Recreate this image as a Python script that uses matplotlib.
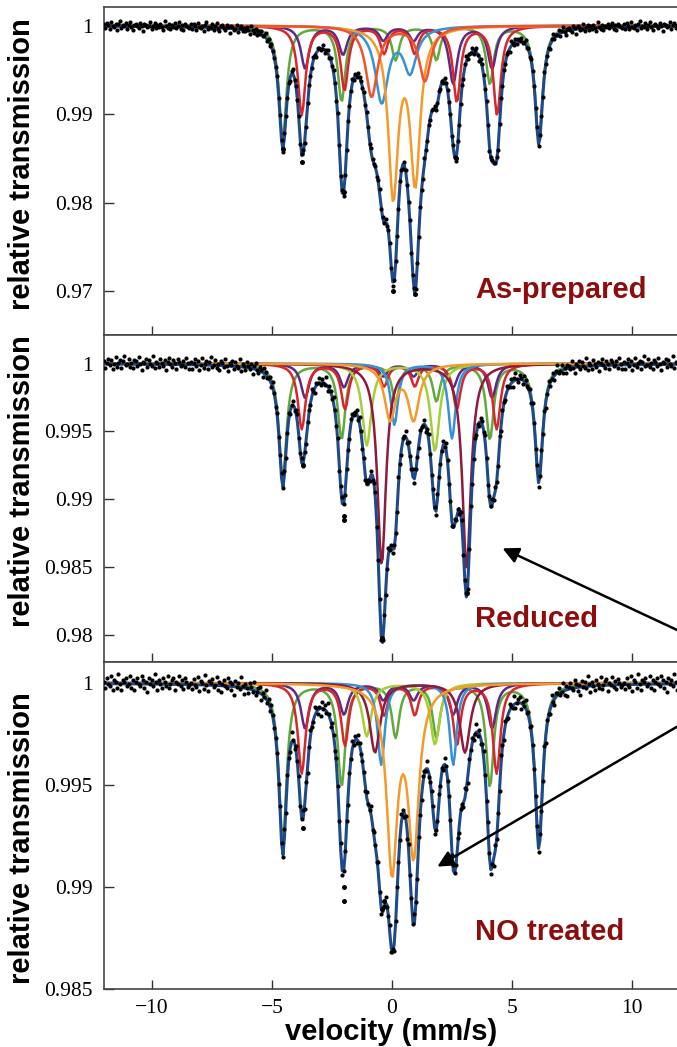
import numpy as np
import matplotlib
matplotlib.use('Agg')
import matplotlib.pyplot as plt

# velocity channels (mm/s)
V_MIN, V_MAX, N_CH = -12.0, 12.0, 400

# sub-spectra colours
GREEN = '#62a83c'
RED = '#d9262b'
PURPLE = '#5e2a84'
ORANGE = '#f59a2a'
BLUE = '#3591d8'
ORANGERED = '#f0532b'
MAROON = '#8e1b3b'
YGREEN = '#a5cf3a'
NAVY = '#1f4a8a'
LABEL_RED = '#8b0d0d'

# --- As-prepared: line centres (mm/s) and depths
p1_green_c = [-4.55, -2.1, 0.15, 1.85, 4.08, 6.12]
p1_green_d = [0.0128, 0.0085, 0.0038, 0.0038, 0.0065, 0.0130]
p1_red_c = [-3.76, -1.98, -0.33, 0.95, 2.7, 4.38]
p1_red_d = [0.0100, 0.0072, 0.0030, 0.0030, 0.0085, 0.0100]
p1_purple_c = [-3.62, -2.04, -0.36, 0.9, 2.55, 4.17]
p1_purple_d = [0.0048, 0.0032, 0.0016, 0.0016, 0.0065, 0.0048]
p1_orange_c = [0.05, 0.97]
p1_orange_d = [0.0188, 0.0172]
p1_blue_c = [-0.43, 0.75]
p1_blue_d = [0.0085, 0.0050]
p1_ored_c = [-0.85, 1.37]
p1_ored_d = [0.0080, 0.0062]

# --- Reduced
p2_green_c = [-4.55, -2.1, 0.15, 1.85, 4.08, 6.12]
p2_green_d = [0.0085, 0.0055, 0.0027, 0.0027, 0.0055, 0.0085]
p2_red_c = [-3.76, -1.96, -0.33, 0.95, 2.7, 4.36]
p2_red_d = [0.0048, 0.0033, 0.0016, 0.0016, 0.0033, 0.0048]
p2_purple_c = [-3.62, -2.0, -0.36, 0.9, 2.55, 4.17]
p2_purple_d = [0.0025, 0.0017, 0.0009, 0.0009, 0.0017, 0.0025]
p2_maroon_c = [-0.43, 3.11]
p2_maroon_d = [0.0148, 0.0150]
p2_ygreen_c = [-1.05, 1.79]
p2_ygreen_d = [0.0060, 0.0064]
p2_blue_c = [0.1, 2.5]
p2_blue_d = [0.0045, 0.0055]
p2_orange_c = [-0.08, 0.9]
p2_orange_d = [0.0040, 0.0040]

# --- NO treated
p3_green_c = [-4.55, -2.1, 0.15, 1.85, 4.08, 6.12]
p3_green_d = [0.0079, 0.0050, 0.0026, 0.0026, 0.0050, 0.0079]
p3_red_c = [-3.76, -1.96, -0.33, 0.95, 2.7, 4.36]
p3_red_d = [0.0044, 0.0030, 0.0015, 0.0015, 0.0030, 0.0044]
p3_purple_c = [-3.62, -2.0, -0.36, 0.9, 2.55, 4.17]
p3_purple_d = [0.0022, 0.0015, 0.0008, 0.0008, 0.0015, 0.0022]
p3_maroon_c = [-0.71, 3.04]
p3_maroon_d = [0.0034, 0.0034]
p3_ygreen_c = [-1.05, 1.79]
p3_ygreen_d = [0.0026, 0.0030]
p3_blue_c = [-0.45, 2.55]
p3_blue_d = [0.0040, 0.0040]
p3_orange_c = [0.0, 0.9]
p3_orange_d = [0.0089, 0.0080]

# measured points: fit + residuals (x1e-4), plus a few off-fit points
p1_resid = [3, -2, 4, 1, -3, 5, 0, -1, 2, -4, 3, 6, -2, 1, 0, 4, -3, 2, 5, -1,
            -4, 2, 3, 0, -2, 4, 1, -5, 3, 2, -1, 0, 5, -3, 1, 4, -2, 2, -1, 3,
            0, -4, 6, 1, -2, 3, -3, 2, 0, 4, -1, 1, 5, -2, 2, -3, 3, 1, 0, -1]
p2_resid = [2, -3, 1, 4, -1, 3, -4, 0, 5, -2, 1, 3, -3, 2, 6, -1, 0, 4, -2, 1,
            -3, 3, 2, -1, 5, 0, -4, 2, 1, 4, -2, 3, 0, -1, 6, -3, 2, 1, -2, 4,
            1, -1, 3, -4, 2, 5, 0, -2, 3, 1, -3, 4, 2, -1, 0, 3, -2, 5, 1, -3]
p3_resid = [1, -2, 3, 0, -1, 4, -3, 2, 1, -2, 5, 0, -3, 2, 1, 3, -1, 0, 4, -2,
            2, -3, 1, 3, 0, -1, 4, 2, -2, 1, -4, 3, 0, 2, -1, 5, 1, -3, 2, 0,
            -2, 3, 1, -1, 4, -2, 0, 2, 3, -3, 1, 0, 4, -1, 2, -2, 3, 1, -1, 0]
p1_extra_v = [-4.55, -3.76, -2.0, 0.05, 0.96, 2.66]
p1_extra_t = [0.9860, 0.9846, 0.9812, 0.9700, 0.9697, 0.9850]
p2_extra_v = [-3.72, -2.02, -1.98, -0.43, 3.11]
p2_extra_t = [0.9925, 0.9885, 0.9888, 0.9798, 0.9831]
p3_extra_v = [-3.7, -2.02, -1.98, -0.4, -0.35]
p3_extra_t = [0.9929, 0.9900, 0.9893, 0.9889, 0.9893]


def lorentz(v, centres, depths, fwhm):
    out = np.zeros_like(v)
    for c, d in zip(centres, depths):
        out += d / (1.0 + ((v - c) / (fwhm / 2.0)) ** 2)
    return out


v = np.linspace(V_MIN, V_MAX, N_CH)

panels = [
    dict(comps=[(GREEN, p1_green_c, p1_green_d, 0.38),
                (PURPLE, p1_purple_c, p1_purple_d, 0.42),
                (RED, p1_red_c, p1_red_d, 0.38),
                (BLUE, p1_blue_c, p1_blue_d, 0.65),
                (ORANGE, p1_orange_c, p1_orange_d, 0.50),
                (ORANGERED, p1_ored_c, p1_ored_d, 0.60)],
         resid=p1_resid, ev=p1_extra_v, et=p1_extra_t,
         ylim=(0.96503, 1.0021), yticks=[0.97, 0.98, 0.99, 1.0],
         ylabels=['0.97', '0.98', '0.99', '1'],
         name='As-prepared', name_y=290, ylab_y=164),
    dict(comps=[(GREEN, p2_green_c, p2_green_d, 0.38),
                (PURPLE, p2_purple_c, p2_purple_d, 0.42),
                (RED, p2_red_c, p2_red_d, 0.38),
                (YGREEN, p2_ygreen_c, p2_ygreen_d, 0.46),
                (BLUE, p2_blue_c, p2_blue_d, 0.37),
                (MAROON, p2_maroon_c, p2_maroon_d, 0.43),
                (ORANGE, p2_orange_c, p2_orange_d, 0.55)],
         resid=p2_resid, ev=p2_extra_v, et=p2_extra_t,
         ylim=(0.97801, 1.0021), yticks=[0.98, 0.985, 0.99, 0.995, 1.0],
         ylabels=['0.98', '0.985', '0.99', '0.995', '1'],
         name='Reduced', name_y=619, ylab_y=481),
    dict(comps=[(GREEN, p3_green_c, p3_green_d, 0.38),
                (PURPLE, p3_purple_c, p3_purple_d, 0.42),
                (RED, p3_red_c, p3_red_d, 0.38),
                (YGREEN, p3_ygreen_c, p3_ygreen_d, 0.46),
                (BLUE, p3_blue_c, p3_blue_d, 0.36),
                (MAROON, p3_maroon_c, p3_maroon_d, 0.52),
                (ORANGE, p3_orange_c, p3_orange_d, 0.54)],
         resid=p3_resid, ev=p3_extra_v, et=p3_extra_t,
         ylim=(0.985, 1.00103), yticks=[0.985, 0.99, 0.995, 1.0],
         ylabels=['0.985', '0.99', '0.995', '1'],
         name='NO treated', name_y=932, ylab_y=838),
]

W, H = 677, 1047
fig = plt.figure(figsize=(W / 100, H / 100), dpi=100)
serif = 'Liberation Serif'
sans = 'Liberation Sans'

# panel edges in pixels (top, bottom)
edges = [(7, 335), (335, 662), (662, 989)]
axes = []
for i, (p, (top, bot)) in enumerate(zip(panels, edges)):
    ax = fig.add_axes([104 / W, (H - bot) / H, 576 / W, (bot - top) / H])
    axes.append(ax)

    total = np.zeros_like(v)
    for col, c, d, w in p['comps']:
        a = lorentz(v, c, d, w)
        total += a
        ax.plot(v, 1 - a, color=col, lw=1.8, zorder=2)
    fit = 1 - total
    ax.plot(v, fit, color=NAVY, lw=2.2, zorder=3)

    noise = np.resize(np.array(p['resid'], dtype=float), N_CH) * 1e-4
    ax.plot(v, fit + noise, 'o', color='black', ms=3.0, mew=0, zorder=4)
    ax.plot(p['ev'], p['et'], 'o', color='black', ms=3.6, mew=0, zorder=4)

    ax.set_xlim(V_MIN, V_MAX)
    ax.set_ylim(*p['ylim'])
    ax.set_yticks(p['yticks'])
    ax.set_yticklabels(p['ylabels'], fontfamily=serif, fontsize=15.5)
    ax.set_xticks([-10, -5, 0, 5, 10])
    if i == 2:
        ax.set_xticklabels(['\u221210', '\u22125', '0', '5', '10'],
                           fontfamily=serif, fontsize=15.5)
    else:
        ax.set_xticklabels([])
    ax.tick_params(axis='x', direction='in', length=6.5, width=1.0,
                   color='#333333', pad=7, top=False)
    ax.tick_params(axis='y', direction='in', length=7, width=1.0,
                   color='#333333', pad=8, right=False)
    for s in ax.spines.values():
        s.set_color('#444444')
        s.set_linewidth(1.2)

    fig.text(475 / W, (H - p['name_y']) / H, p['name'], color=LABEL_RED,
             fontsize=21, fontweight='bold', fontfamily=sans,
             ha='left', va='center')
    fig.text(22 / W, (H - p['ylab_y']) / H, 'relative transmission',
             rotation=90, fontsize=21, fontweight='bold', fontfamily=sans,
             ha='center', va='center')

fig.text(391 / W, (H - 1032) / H, 'velocity (mm/s)', fontsize=21,
         fontweight='bold', fontfamily=sans, ha='center', va='center')

# arrows coming in from a note outside the right edge
tail = (769 / W, 1 - 673 / H)
arrow_kw = dict(arrowstyle='-|>', lw=1.8, color='black', mutation_scale=24)
axes[1].annotate('', xy=(4.5, 0.98647), xycoords='data',
                 xytext=tail, textcoords='figure fraction',
                 arrowprops=arrow_kw, annotation_clip=False)
axes[2].annotate('', xy=(1.79, 0.99093), xycoords='data',
                 xytext=tail, textcoords='figure fraction',
                 arrowprops=arrow_kw, annotation_clip=False)

fig.savefig('out.png', dpi=100)
